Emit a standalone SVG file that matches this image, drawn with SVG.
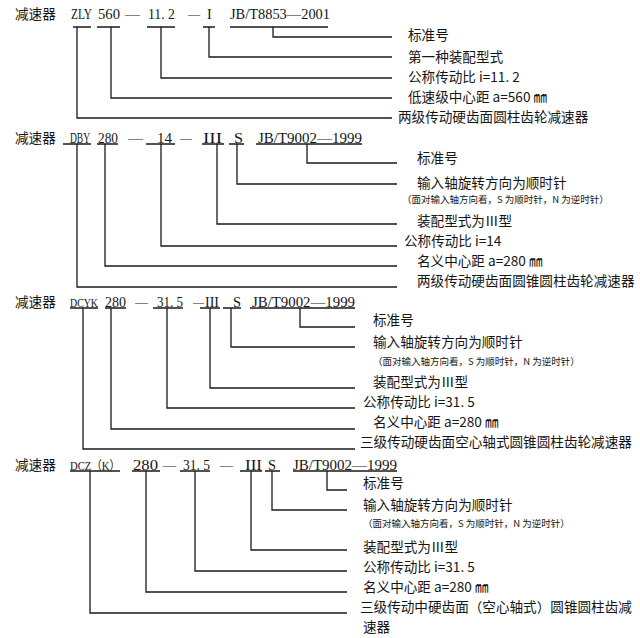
<svg xmlns="http://www.w3.org/2000/svg" width="640" height="638" viewBox="0 0 640 638">
<style>
  .bg{fill:#ffffff}
  .code{font-family:"Liberation Serif","Noto Sans CJK SC",serif;font-size:14px;fill:#151515}
  .sm{font-size:12.5px}
  .dash{font-size:10px}
  .cjk{font-family:"Noto Sans CJK SC","Liberation Serif",sans-serif;font-size:13.6px;fill:#151515}
  .note{font-family:"Noto Sans CJK SC","Liberation Serif",sans-serif;font-size:9.5px;fill:#151515}
  .ul{stroke:#1a1a1a;stroke-width:1.3;fill:none}
  .conn path{stroke:#1a1a1a;stroke-width:1.3;fill:none}
</style>
<rect class="bg" x="0" y="0" width="640" height="638"/>

<!-- ===== Section 1 ===== -->
<g id="s1-code">
  <text class="cjk" x="15" y="19">减速器</text>
  <text class="code" y="19"><tspan x="71" textLength="21" lengthAdjust="spacingAndGlyphs">ZLY</tspan><tspan x="98" textLength="22" lengthAdjust="spacingAndGlyphs">560</tspan><tspan x="125" textLength="15" lengthAdjust="spacingAndGlyphs">—</tspan><tspan x="148" textLength="27" lengthAdjust="spacingAndGlyphs">11. 2</tspan><tspan x="188" textLength="12" lengthAdjust="spacingAndGlyphs">—</tspan><tspan x="207">I</tspan><tspan x="230" textLength="100" lengthAdjust="spacingAndGlyphs">JB/T8853—2001</tspan></text>
  <path class="ul" d="M73,27H91M97,27H120M147,27H175M203,27H215M230,27H328"/>
</g>
<g id="s1-std"><text class="cjk" x="408" y="40">标准号</text></g>
<g id="s1-type"><text class="cjk" x="408" y="62">第一种装配型式</text></g>
<g id="s1-ratio"><text class="cjk" x="408" y="82">公称传动比 i=11. 2</text></g>
<g id="s1-dist"><text class="cjk" x="408" y="102">低速级中心距 a=560 ㎜</text></g>
<g id="s1-kind"><text class="cjk" x="398" y="122">两级传动硬齿面圆柱齿轮减速器</text></g>

<!-- ===== Section 2 ===== -->
<g id="s2-code">
  <text class="cjk" x="15" y="143">减速器</text>
  <text class="code" y="143"><tspan x="70" textLength="20" lengthAdjust="spacingAndGlyphs">DBY</tspan><tspan x="98" textLength="20" lengthAdjust="spacingAndGlyphs">280</tspan><tspan x="128" textLength="15" lengthAdjust="spacingAndGlyphs">—</tspan><tspan x="157" textLength="15" lengthAdjust="spacingAndGlyphs">14</tspan><tspan x="180" textLength="12" lengthAdjust="spacingAndGlyphs">—</tspan><tspan x="203" textLength="19" lengthAdjust="spacingAndGlyphs">III</tspan><tspan x="234" textLength="9" lengthAdjust="spacingAndGlyphs">S</tspan><tspan x="258" textLength="104" lengthAdjust="spacingAndGlyphs">JB/T9002—1999</tspan></text>
  <path class="ul" d="M63,144H91M97,144H118M146,144H175M202,144H224M229,144H244M256,144H362"/>
</g>
<g id="s2-std"><text class="cjk" x="417" y="163">标准号</text></g>
<g id="s2-dir"><text class="cjk" x="417" y="188">输入轴旋转方向为顺时针</text></g>
<g id="s2-note"><text class="note" x="402" y="203">（面对输入轴方向看，S 为顺时针，N 为逆时针）</text></g>
<g id="s2-type"><text class="cjk" x="417" y="226">装配型式为Ⅲ型</text></g>
<g id="s2-ratio"><text class="cjk" x="404" y="246">公称传动比 i=14</text></g>
<g id="s2-dist"><text class="cjk" x="417" y="266">名义中心距 a=280 ㎜</text></g>
<g id="s2-kind"><text class="cjk" x="417" y="286">两级传动硬齿面圆锥圆柱齿轮减速器</text></g>

<!-- ===== Section 3 ===== -->
<g id="s3-code">
  <text class="cjk" x="15" y="307">减速器</text>
  <text class="code" y="307"><tspan class="sm" x="70" textLength="28" lengthAdjust="spacingAndGlyphs">DCYK</tspan><tspan x="105" textLength="21" lengthAdjust="spacingAndGlyphs">280</tspan><tspan x="135" textLength="13" lengthAdjust="spacingAndGlyphs">—</tspan><tspan x="157" textLength="26" lengthAdjust="spacingAndGlyphs">31. 5</tspan><tspan class="dash" x="193" dy="-1.5" textLength="11" lengthAdjust="spacingAndGlyphs">—</tspan><tspan x="205" dy="1.5" textLength="14" lengthAdjust="spacingAndGlyphs">III</tspan><tspan x="233" textLength="8" lengthAdjust="spacingAndGlyphs">S</tspan><tspan x="252" textLength="103" lengthAdjust="spacingAndGlyphs">JB/T9002—1999</tspan></text>
  <path class="ul" d="M70,308H98M105,308H126M153,308H183M200,308H220M223,308H241M250,308H355"/>
</g>
<g id="s3-std"><text class="cjk" x="373" y="325">标准号</text></g>
<g id="s3-dir"><text class="cjk" x="373" y="347">输入轴旋转方向为顺时针</text></g>
<g id="s3-note"><text class="note" x="373" y="365">（面对输入轴方向看，S 为顺时针，N 为逆时针）</text></g>
<g id="s3-type"><text class="cjk" x="373" y="387">装配型式为Ⅲ型</text></g>
<g id="s3-ratio"><text class="cjk" x="363" y="407">公称传动比 i=31. 5</text></g>
<g id="s3-dist"><text class="cjk" x="373" y="427">名义中心距 a=280 ㎜</text></g>
<g id="s3-kind"><text class="cjk" x="360" y="447">三级传动硬齿面空心轴式圆锥圆柱齿轮减速器</text></g>

<!-- ===== Section 4 ===== -->
<g id="s4-code">
  <text class="cjk" x="15" y="470">减速器</text>
  <text class="code" y="470"><tspan class="sm" x="70" textLength="50" lengthAdjust="spacingAndGlyphs">DCZ（K）</tspan><tspan x="133" textLength="25" lengthAdjust="spacingAndGlyphs">280</tspan><tspan x="163" textLength="13" lengthAdjust="spacingAndGlyphs">—</tspan><tspan x="183" textLength="27" lengthAdjust="spacingAndGlyphs">31. 5</tspan><tspan x="220" textLength="13" lengthAdjust="spacingAndGlyphs">—</tspan><tspan x="245" textLength="17" lengthAdjust="spacingAndGlyphs">III</tspan><tspan x="268" textLength="8" lengthAdjust="spacingAndGlyphs">S</tspan><tspan x="293" textLength="104" lengthAdjust="spacingAndGlyphs">JB/T9002—1999</tspan></text>
  <path class="ul" d="M70,471H120M132,471H160M180,471H210M240,471H262M265,471H280M293,471H397"/>
</g>
<g id="s4-std"><text class="cjk" x="363" y="488">标准号</text></g>
<g id="s4-dir"><text class="cjk" x="363" y="510">输入轴旋转方向为顺时针</text></g>
<g id="s4-note"><text class="note" x="363" y="527">（面对输入轴方向看，S 为顺时针，N 为逆时针）</text></g>
<g id="s4-type"><text class="cjk" x="363" y="552">装配型式为Ⅲ型</text></g>
<g id="s4-ratio"><text class="cjk" x="363" y="572">公称传动比 i=31. 5</text></g>
<g id="s4-dist"><text class="cjk" x="363" y="592">名义中心距 a=280 ㎜</text></g>
<g id="s4-kind">
  <text class="cjk" x="360" y="612">三级传动中硬齿面（空心轴式）圆锥圆柱齿减</text>
  <text class="cjk" x="363" y="632">速器</text>
</g>

<!-- ===== Connectors ===== -->
<g id="connectors" class="conn">
  <path d="M273,27V37H392"/>
  <path d="M209,27V57H392"/>
  <path d="M161,27V78H392"/>
  <path d="M111,27V98H392"/>
  <path d="M77,27V118H392"/>

  <path d="M307,144V163H397"/>
  <path d="M237,144V184H397"/>
  <path d="M217,144V224H397"/>
  <path d="M161,144V246H397"/>
  <path d="M105,144V266H397"/>
  <path d="M77,144V287H397"/>

  <path d="M300,308V327H355"/>
  <path d="M231,308V347H355"/>
  <path d="M210,308V388H355"/>
  <path d="M167,308V408H355"/>
  <path d="M111,308V429H355"/>
  <path d="M83,308V449H355"/>

  <path d="M327,471V490H347"/>
  <path d="M272,471V510H347"/>
  <path d="M251,471V550H347"/>
  <path d="M195,471V571H347"/>
  <path d="M146,471V592H347"/>
  <path d="M90,471V613H347"/>
</g>
</svg>
